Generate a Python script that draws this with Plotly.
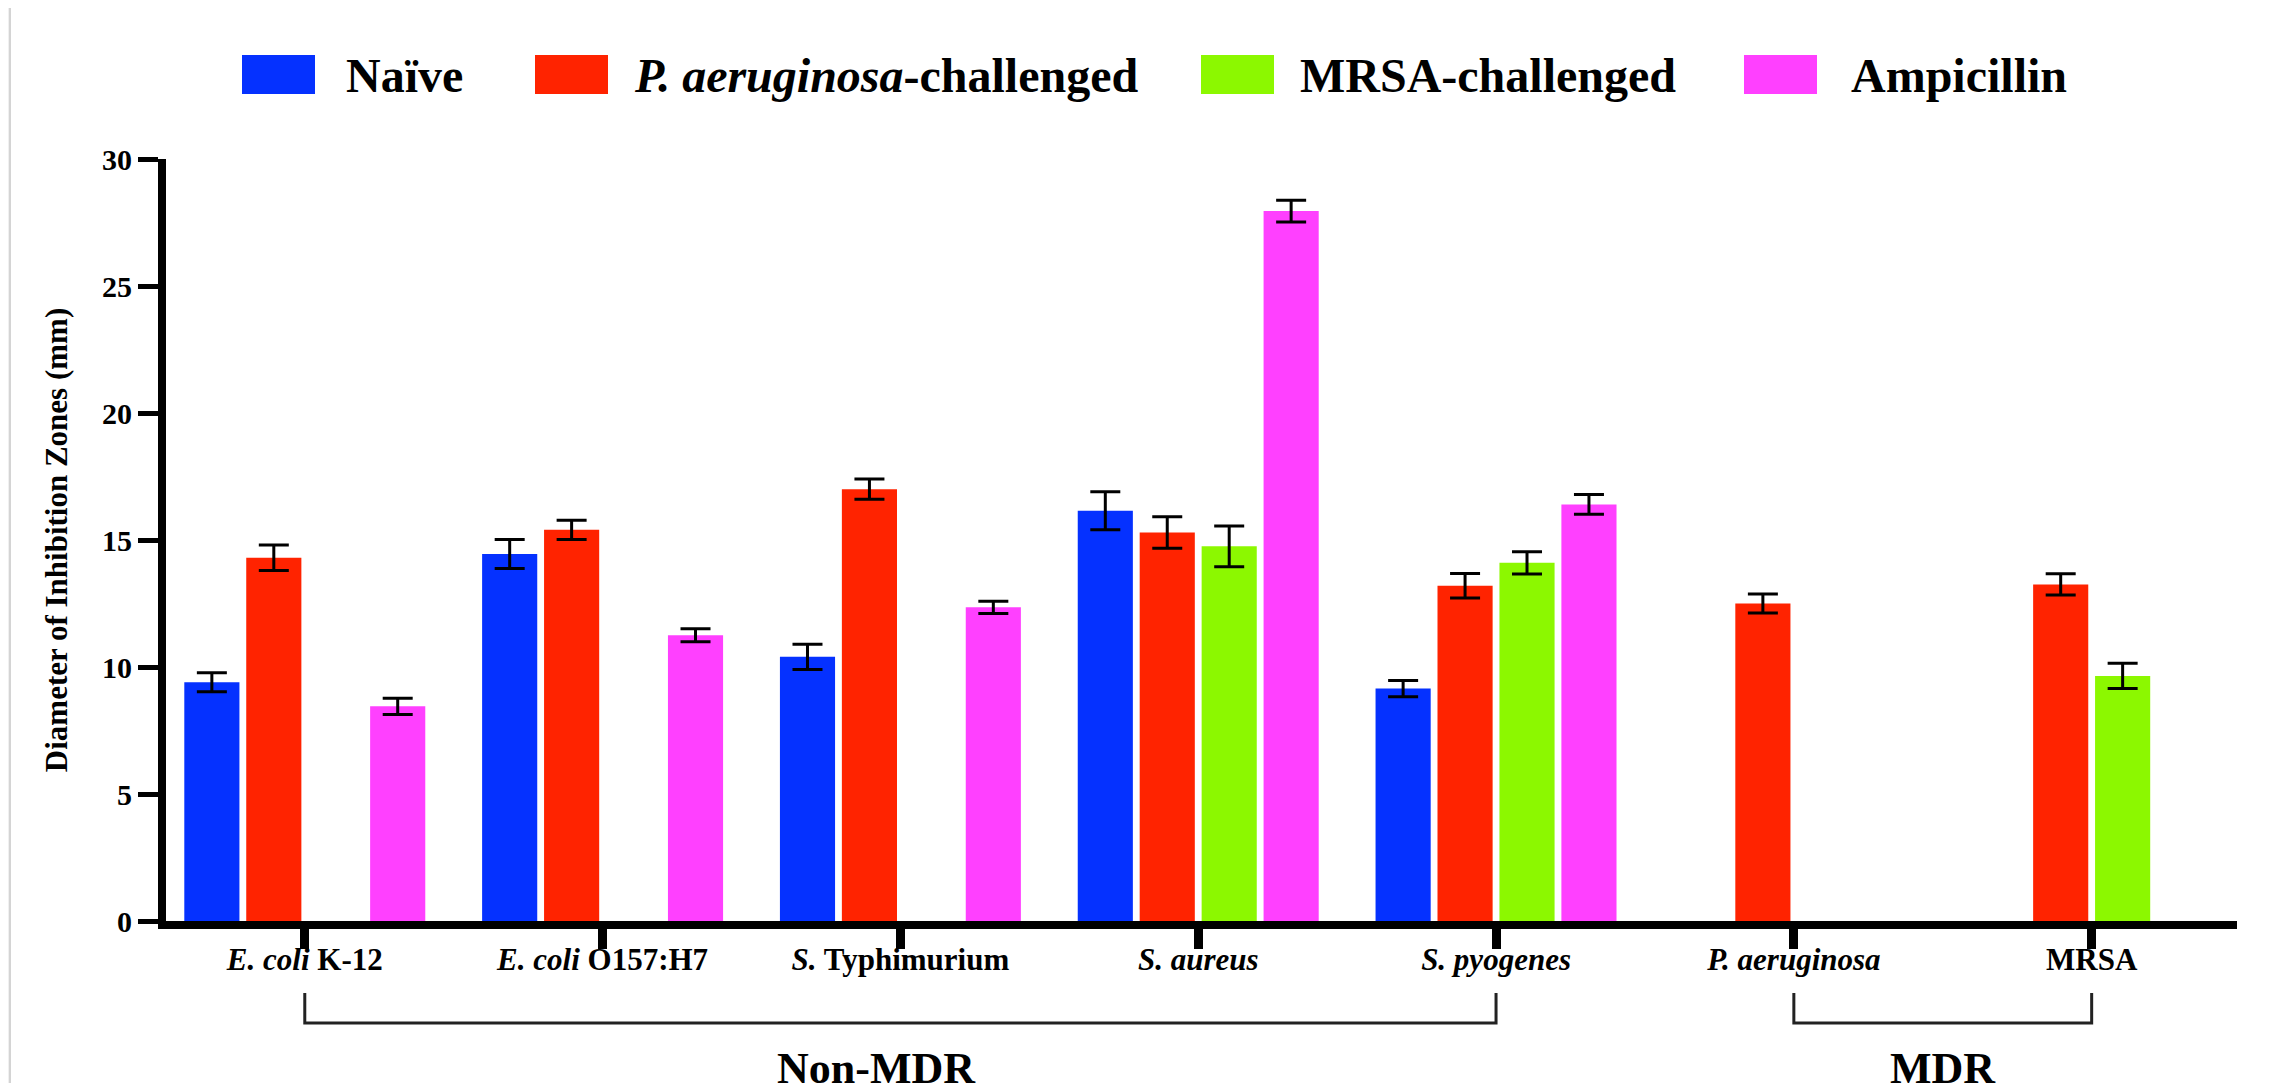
import plotly.graph_objects as go

# ---------------- data ----------------
categories = ["E. coli K-12", "E. coli O157:H7", "S. Typhimurium", "S. aureus",
              "S. pyogenes", "P. aeruginosa", "MRSA"]
tick_labels = ["<b><i>E. coli</i> K-12</b>", "<b><i>E. coli</i> O157:H7</b>",
               "<b><i>S.</i> Typhimurium</b>", "<b><i>S. aureus</i></b>",
               "<b><i>S. pyogenes</i></b>", "<b><i>P. aeruginosa</i></b>", "<b>MRSA</b>"]

series_names = ["Naïve", "P. aeruginosa-challenged", "MRSA-challenged", "Ampicillin"]
legend_labels = ["<b>Naïve</b>", "<b><i>P. aeruginosa</i>-challenged</b>",
                 "<b>MRSA-challenged</b>", "<b>Ampicillin</b>"]
series_colors = ["#0531ff", "#ff2300", "#8cf800", "#ff40ff"]

naive = [9.4, 14.45, 10.4, 16.15, 9.15, None, None]
naive_err = [0.37, 0.57, 0.5, 0.75, 0.32, None, None]
pa_chal = [14.3, 15.4, 17.0, 15.3, 13.2, 12.5, 13.25]
pa_chal_err = [0.5, 0.38, 0.4, 0.62, 0.48, 0.37, 0.42]
mrsa_chal = [None, None, None, 14.75, 14.1, None, 9.65]
mrsa_chal_err = [None, None, None, 0.8, 0.44, None, 0.5]
ampicillin = [8.45, 11.25, 12.35, 27.95, 16.4, None, None]
ampicillin_err = [0.32, 0.26, 0.24, 0.43, 0.39, None, None]

y_ticks = [0, 5, 10, 15, 20, 25, 30]
group_names = ["Non-MDR", "MDR"]
group_spans = [(0, 4), (5, 6)]

# ---------------- layout geometry ----------------
OFF = 8                      # page body margin of the html page
W, H = 2269 - OFF, 1083 - OFF
L, R, T, B = 166 - OFF, 32, 159 - OFF, 162
PW, PH = W - L - R, H - T - B
FONT = "Liberation Serif"


def px_x(page_px):
    return (page_px - OFF - L) / PW


def px_y(page_py):
    return (H - B - (page_py - OFF)) / PH


values = [naive, pa_chal, mrsa_chal, ampicillin]
errors = [naive_err, pa_chal_err, mrsa_chal_err, ampicillin_err]

fig = go.Figure()
for name, col, vals, errs in zip(series_names, series_colors, values, errors):
    fig.add_trace(go.Bar(
        x=categories, y=vals, name=name,
        marker=dict(color=col, line=dict(width=0)),
        error_y=dict(type="data", array=errs, visible=True,
                     color="black", thickness=3, width=15),
        showlegend=False,
    ))

fig.update_layout(
    width=W, height=H,
    margin=dict(l=L, r=R, t=T, b=B, autoexpand=False),
    paper_bgcolor="white", plot_bgcolor="white",
    barmode="group", bargap=0.168, bargroupgap=0.11,
    font=dict(family=FONT, color="black"),
)

fig.update_xaxes(
    range=[-0.466, 6.488],
    tickmode="array", tickvals=categories, ticktext=tick_labels,
    tickfont=dict(family=FONT, size=31, color="black"),
    showline=True, linecolor="black", linewidth=8,
    ticks="outside", ticklen=20, tickwidth=9, tickcolor="black",
    showgrid=False, zeroline=False, ticklabelstandoff=-16,
)
fig.update_yaxes(
    range=[0, 30], tickvals=y_ticks,
    tickfont=dict(family=FONT, size=30, color="black", weight="bold"),
    showline=True, linecolor="black", linewidth=8,
    ticks="outside", ticklen=20, tickwidth=5, tickcolor="black",
    showgrid=False, zeroline=False, ticklabelstandoff=0,
    title=dict(text="<b>Diameter of Inhibition Zones (mm)</b>",
               font=dict(family=FONT, size=31, color="black"), standoff=28),
)

# manual legend (large swatches as in the original)
sw_left = [242, 535, 1201, 1744]
txt_left = [344, 632, 1298, 1849]
for i, (lab, col) in enumerate(zip(legend_labels, series_colors)):
    fig.add_shape(type="rect", xref="paper", yref="paper",
                  x0=px_x(sw_left[i]), x1=px_x(sw_left[i] + 73),
                  y0=px_y(94), y1=px_y(55),
                  fillcolor=col, line=dict(width=0))
    fig.add_annotation(xref="paper", yref="paper", x=px_x(txt_left[i]), y=px_y(76),
                       xanchor="left", yanchor="middle", showarrow=False,
                       text=lab, font=dict(family=FONT, size=48, color="black"))

# group brackets
label_x = [1.92, 5.5]
for (a, b), gname, lx in zip(group_spans, group_names, label_x):
    fig.add_shape(type="path", xref="x", yref="paper",
                  path=f"M {a},{px_y(993)} L {a},{px_y(1023)} L {b},{px_y(1023)} L {b},{px_y(993)}",
                  line=dict(color="#222222", width=3))
    fig.add_annotation(xref="x", yref="paper", x=lx, y=px_y(1042),
                       xanchor="center", yanchor="top", showarrow=False,
                       text=f"<b>{gname}</b>",
                       font=dict(family=FONT, size=44, color="black"))

# light grey frame line near the left edge
fig.add_shape(type="rect", xref="paper", yref="paper",
              x0=px_x(OFF), x1=px_x(10), y0=px_y(1083), y1=px_y(OFF),
              fillcolor="#f0f0f0", line=dict(width=0), layer="below")
fig.add_shape(type="line", xref="paper", yref="paper",
              x0=px_x(10), x1=px_x(10), y0=px_y(1083), y1=px_y(OFF),
              line=dict(color="#d4d4d4", width=2))

fig.write_html("out.html")
